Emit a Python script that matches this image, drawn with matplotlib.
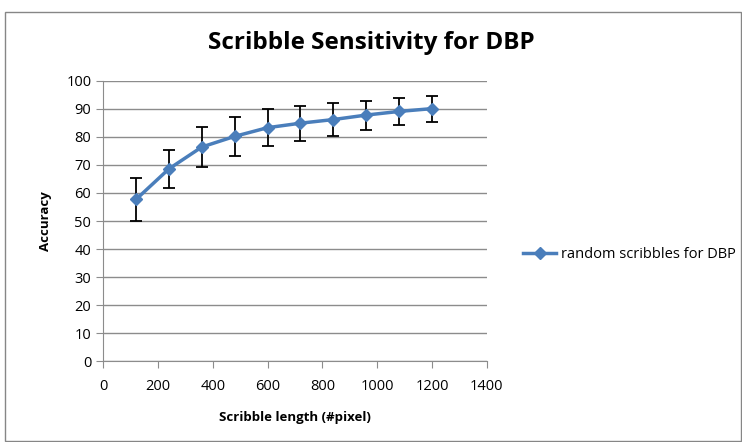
import matplotlib.pyplot as plt
from matplotlib.patches import Rectangle

plt.rcParams['font.family'] = ['Open Sans', 'DejaVu Sans']

# Data
lengths = [120, 240, 360, 480, 600, 720, 840, 960, 1080, 1200]
accuracy = [57.7, 68.6, 76.4, 80.2, 83.3, 84.9, 86.2, 87.8, 89.1, 90.1]
err = [7.7, 6.8, 7.2, 7.0, 6.7, 6.3, 5.8, 5.2, 4.8, 4.6]

blue = '#4a7ebb'
grid_col = '#8c8c8c'

fig = plt.figure(figsize=(7.42, 4.42), dpi=100)
ax = fig.add_axes([0.139, 0.183, 0.517, 0.634])

# outer chart border
fig.patches.append(Rectangle((5 / 742, 0.002), 736 / 742, 1 - 12 / 442 - 0.002,
                             transform=fig.transFigure, fill=False,
                             edgecolor='#868686', linewidth=1.0))

ax.errorbar(lengths, accuracy, yerr=err, fmt='none', ecolor='black',
            elinewidth=1.3, capsize=4, capthick=1.3, zorder=2)
ax.plot(lengths, accuracy, color=blue, linewidth=2.5, marker='D',
        markersize=6, markerfacecolor=blue, markeredgecolor=blue,
        label='random scribbles for DBP', zorder=3)

ax.set_xlim(0, 1400)
ax.set_ylim(0, 100)
ax.set_xticks(range(0, 1401, 200))
ax.set_yticks(range(0, 101, 10))
ax.grid(axis='y', color=grid_col, linewidth=1.0)
ax.set_axisbelow(True)
for side in ['top', 'right']:
    ax.spines[side].set_visible(False)
for side in ['left', 'bottom']:
    ax.spines[side].set_color(grid_col)
ax.tick_params(axis='both', colors=grid_col, labelcolor='black',
               labelsize=10.5, length=5)
ax.tick_params(axis='x', pad=8)

# chart title is centred over the whole chart area
fig.text(0.5, 1 - 43 / 442, 'Scribble Sensitivity for DBP', fontsize=17.5,
         fontweight='bold', ha='center', va='center')
ax.set_xlabel('Scribble length (#pixel)', fontsize=9.5, fontweight='bold', labelpad=12)
ax.set_ylabel('Accuracy', fontsize=9.5, fontweight='bold', labelpad=10)

ax.legend(loc='center left', bbox_to_anchor=(1.06, 0.38), frameon=False,
          fontsize=10.5, handlelength=2.3, handletextpad=0.3)

plt.savefig('out.png', dpi=100)
